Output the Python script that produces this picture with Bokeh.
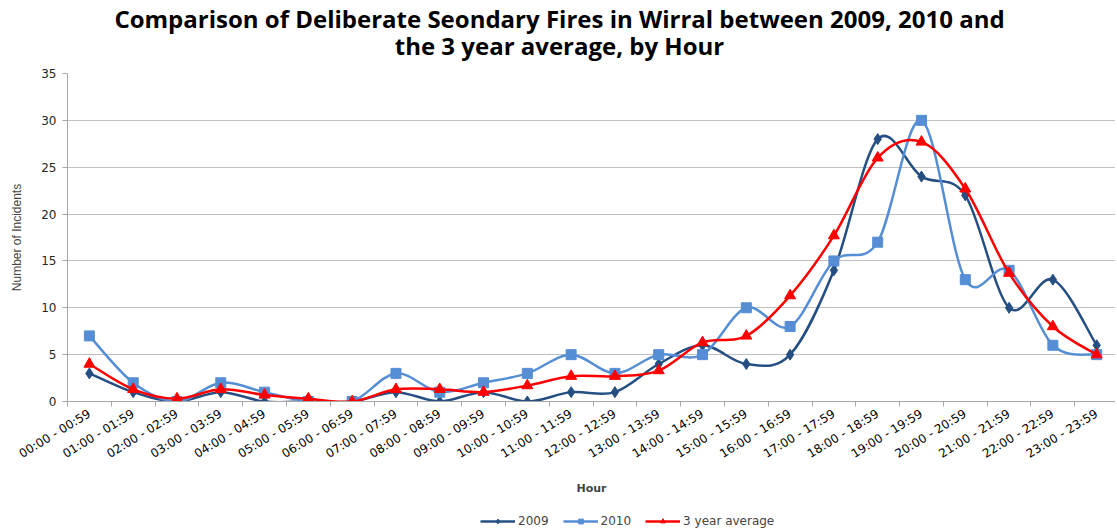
import numpy as np
from bokeh.plotting import figure
from bokeh.layouts import column
from bokeh.models import Range1d, FixedTicker, Legend, LegendItem, Label
from bokeh.embed import file_html
from bokeh.resources import INLINE

hours = ["00:00 - 00:59", "01:00 - 01:59", "02:00 - 02:59", "03:00 - 03:59",
         "04:00 - 04:59", "05:00 - 05:59", "06:00 - 06:59", "07:00 - 07:59",
         "08:00 - 08:59", "09:00 - 09:59", "10:00 - 10:59", "11:00 - 11:59",
         "12:00 - 12:59", "13:00 - 13:59", "14:00 - 14:59", "15:00 - 15:59",
         "16:00 - 16:59", "17:00 - 17:59", "18:00 - 18:59", "19:00 - 19:59",
         "20:00 - 20:59", "21:00 - 21:59", "22:00 - 22:59", "23:00 - 23:59"]
y2009 = [3, 1, 0, 1, 0, 0, 0, 1, 0, 1, 0, 1, 1, 4, 6, 4, 5, 14, 28, 24, 22, 10, 13, 6]
y2010 = [7, 2, 0, 2, 1, 0, 0, 3, 1, 2, 3, 5, 3, 5, 5, 10, 8, 15, 17, 30, 13, 14, 6, 5]
avg3 = [4, 1.3, 0.3, 1.3, 0.7, 0.3, 0, 1.3, 1.3, 1.0, 1.7, 2.7, 2.7, 3.3, 6.3, 7, 11.3,
        17.7, 26, 27.7, 22.7, 13.7, 8, 5]
title_lines = ["Comparison of Deliberate Seondary Fires in Wirral between 2009, 2010 and",
               "the 3 year average, by Hour"]

C2009 = "#254F82"
C2010 = "#558ED5"
CAVG = "#FF0000"
FONT = "DejaVu Sans"
TFONT = "Open Sans"
W = 1115
TH = 62

xs = list(range(len(hours)))


def bez(xv, yv):
    n = len(xv)
    d = dict(x0=[], y0=[], x1=[], y1=[], cx0=[], cy0=[], cx1=[], cy1=[])
    for i in range(n - 1):
        pm = max(i - 1, 0)
        pp = min(i + 2, n - 1)
        d["x0"].append(xv[i]); d["y0"].append(yv[i])
        d["x1"].append(xv[i + 1]); d["y1"].append(yv[i + 1])
        d["cx0"].append(xv[i] + (xv[i + 1] - xv[pm]) / 6)
        d["cy0"].append(yv[i] + (yv[i + 1] - yv[pm]) / 6)
        d["cx1"].append(xv[i + 1] - (xv[pp] - xv[i]) / 6)
        d["cy1"].append(yv[i + 1] - (yv[pp] - yv[i]) / 6)
    return d


# title strip (its frame is aligned with the main plot frame, which starts at x=67)
pt = figure(width=W, height=TH, output_backend="svg", toolbar_location=None,
            x_range=Range1d(0, 1), y_range=Range1d(0, 1),
            x_axis_location=None, y_axis_location=None, min_border=0,
            background_fill_color="white", border_fill_color="white")
pt.outline_line_color = None
pt.grid.visible = False
for txt, yy in zip(title_lines, [TH - 18, TH - 45]):
    pt.add_layout(Label(x=492, y=yy, x_units="screen", y_units="screen", text=txt,
                        text_align="center", text_baseline="middle",
                        text_font=TFONT, text_font_size="24px",
                        text_font_style="bold", text_color="#000000"))

p = figure(width=W, height=497 - TH, output_backend="svg", toolbar_location=None,
           x_range=Range1d(-0.5, 23.43), y_range=Range1d(0, 35),
           min_border_left=67, min_border_right=0, min_border_top=73 - TH,
           min_border_bottom=83, background_fill_color="white",
           border_fill_color="white")
p.outline_line_color = None

# legend strip figure
pl = figure(width=W, height=32, output_backend="svg", toolbar_location=None,
            x_range=Range1d(100, 101), y_range=Range1d(100, 101),
            x_axis_location=None, y_axis_location=None, min_border=0,
            background_fill_color="white", border_fill_color="white")
pl.outline_line_color = None
pl.grid.visible = False

legend_items = []
for data, col, mk, sz, lab in [(y2009, C2009, "diamond", 11, "2009"),
                               (y2010, C2010, "square", 10, "2010"),
                               (avg3, CAVG, "triangle", 11, "3 year average")]:
    b = bez(xs, data)
    for fig in (p, pl):
        bl = fig.bezier(source=b, x0="x0", y0="y0", x1="x1", y1="y1", cx0="cx0",
                        cy0="cy0", cx1="cx1", cy1="cy1", line_color=col, line_width=2.5)
        m = fig.scatter(xs, data, marker=mk, size=sz, fill_color=col, line_color=col)
    legend_items.append(LegendItem(label=lab, renderers=[bl, m]))

# axes
p.xgrid.visible = False
p.ygrid.grid_line_color = "#C0C0C0"
p.ygrid.grid_line_width = 1

p.xaxis.ticker = FixedTicker(ticks=xs, minor_ticks=[i - 0.5 for i in range(25)])
p.xaxis.major_label_overrides = {i: h for i, h in enumerate(hours)}
p.xaxis.major_label_orientation = 0.55
p.xaxis.major_tick_out = 0
p.xaxis.major_tick_in = 0
p.xaxis.minor_tick_out = 5
p.xaxis.minor_tick_in = 0
p.xaxis.minor_tick_line_color = "#A6A6A6"
p.xaxis.axis_line_color = "#A6A6A6"
p.xaxis.major_label_text_font = FONT
p.xaxis.major_label_text_font_size = "12px"
p.xaxis.major_label_text_color = "#000000"
p.xaxis.major_label_standoff = 6
p.xaxis.axis_label = "Hour"
p.xaxis.axis_label_text_font = FONT
p.xaxis.axis_label_text_font_size = "11px"
p.xaxis.axis_label_text_font_style = "bold"
p.xaxis.axis_label_standoff = 12

p.yaxis.ticker = FixedTicker(ticks=[0, 5, 10, 15, 20, 25, 30, 35])
p.yaxis.axis_line_color = "#A6A6A6"
p.yaxis.major_tick_line_color = "#A6A6A6"
p.yaxis.major_tick_out = 5
p.yaxis.major_tick_in = 0
p.yaxis.minor_tick_line_color = None
p.yaxis.major_label_text_font = FONT
p.yaxis.major_label_text_font_size = "12px"
p.yaxis.major_label_text_color = "#262626"
p.yaxis.major_label_standoff = 6
p.yaxis.axis_label = "Number of Incidents"
p.yaxis.axis_label_text_font = "Liberation Sans"
p.yaxis.axis_label_text_font_size = "12px"
p.yaxis.axis_label_text_font_style = "normal"
p.yaxis.axis_label_standoff = 14

legend = Legend(items=legend_items, orientation="horizontal", location=(413, 1),
                label_text_font=FONT, label_text_font_size="12px",
                glyph_width=35, glyph_height=12, spacing=14, padding=2, margin=0,
                label_standoff=3, border_line_color=None, background_fill_alpha=0)
pl.add_layout(legend, "center")

layout = column(pt, p, pl, spacing=0)
open("out.html", "w").write(file_html(layout, INLINE))
